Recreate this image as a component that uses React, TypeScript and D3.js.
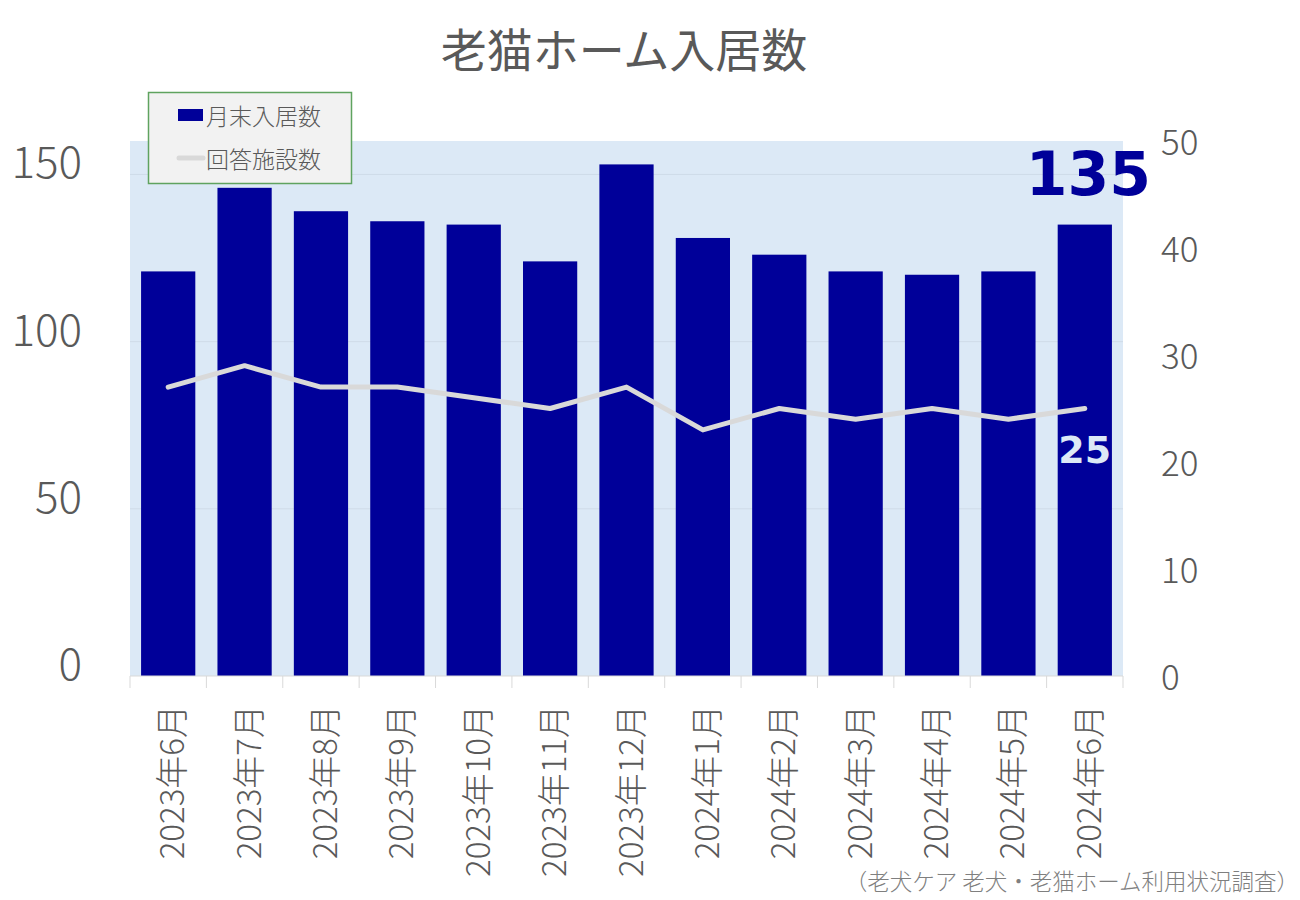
import React from "react";
import * as d3 from "d3";

const categories = [
  "2023年6月", "2023年7月", "2023年8月", "2023年9月", "2023年10月", "2023年11月",
  "2023年12月", "2024年1月", "2024年2月", "2024年3月", "2024年4月", "2024年5月", "2024年6月",
];
const residents = [121, 146, 139, 136, 135, 124, 153, 131, 126, 121, 120, 121, 135];
const facilities = [27, 29, 27, 27, 26, 25, 27, 23, 25, 24, 25, 24, 25];
const leftTicks = [0, 50, 100, 150];
const rightTicks = [0, 10, 20, 30, 40, 50];

const W = 1300, H = 900;
const plot = { left: 130, right: 1123, top: 141, bottom: 676 };
const FONT = "'Noto Sans CJK JP', 'Noto Sans', sans-serif";
const TXT = "#595959";

export default function App() {
  const x = d3.scaleBand<string>().domain(categories).range([plot.left, plot.right]).paddingInner(0.29).paddingOuter(0.145);
  const yL = d3.scaleLinear().domain([0, 160]).range([plot.bottom, plot.top]);
  const yR = d3.scaleLinear().domain([0, 50]).range([plot.bottom, plot.top]);
  const step = x.step();
  const line = d3.line<number>()
    .x((_, i) => (x(categories[i]) as number) + x.bandwidth() / 2)
    .y((d) => yR(d));
  const lastI = categories.length - 1;
  const lastCx = (x(categories[lastI]) as number) + x.bandwidth() / 2;

  return (
    <svg width={W} height={H} style={{ position: "absolute", left: 0, top: 0 }} fontFamily={FONT}>
      <rect x={0} y={0} width={W} height={H} fill="#ffffff" />
      <text x={624} y={67} textAnchor="middle" fontSize={46} fill={TXT}>老猫ホーム入居数</text>
      <rect x={plot.left} y={plot.top} width={plot.right - plot.left} height={plot.bottom - plot.top} fill="#dce9f6" />
      {leftTicks.filter((t) => t > 0).map((t) => (
        <line key={t} x1={plot.left} x2={plot.right} y1={yL(t)} y2={yL(t)} stroke="#cfdbe8" strokeWidth={1} />
      ))}
      {residents.map((v, i) => (
        <rect key={i} x={x(categories[i])} y={yL(v)} width={x.bandwidth()} height={plot.bottom - yL(v)} fill="#000099" />
      ))}
      <path d={line(facilities) || ""} fill="none" stroke="#d9d9d9" strokeWidth={5} strokeLinejoin="round" strokeLinecap="round" />
      <line x1={plot.left} x2={plot.right} y1={plot.bottom} y2={plot.bottom} stroke="#d9d9d9" strokeWidth={1} />
      {d3.range(categories.length + 1).map((i) => {
        const xx = plot.left + i * step;
        return <line key={i} x1={xx} x2={xx} y1={plot.bottom} y2={plot.bottom + 12} stroke="#d9d9d9" strokeWidth={1} />;
      })}
      {categories.map((c) => {
        const cx = (x(c) as number) + x.bandwidth() / 2;
        return (
          <text key={c} transform={`translate(${cx + 2},705) rotate(-90)`} textAnchor="end" dominantBaseline="central" fontSize={33} fontWeight={300} fill={TXT}>{c}</text>
        );
      })}
      {leftTicks.map((t) => (
        <text key={t} x={82} y={yL(t) - 15} textAnchor="end" dominantBaseline="central" fontSize={44} fontWeight={300} fill={TXT}>{t}</text>
      ))}
      {rightTicks.map((t) => (
        <text key={t} x={1161} y={yR(t) - 2} textAnchor="start" dominantBaseline="central" fontSize={35} fontWeight={300} fill={TXT}>{t}</text>
      ))}
      <text x={1151} y={195} textAnchor="end" fontFamily="'DejaVu Sans', sans-serif" fontWeight="bold" fontSize={60} fill="#000099">{residents[lastI]}</text>
      <text x={lastCx} y={463} textAnchor="middle" fontFamily="'DejaVu Sans', sans-serif" fontWeight="bold" fontSize={38} fill="#dce9f6">{facilities[lastI]}</text>
      <g>
        <rect x={148.5} y={92.5} width={203} height={91} fill="#f2f2f2" stroke="#5fa35f" strokeWidth={1.5} />
        <rect x={178} y={109} width={25} height={12} fill="#000099" />
        <text x={206} y={115} dominantBaseline="central" fontSize={23} fontWeight={300} fill={TXT}>月末入居数</text>
        <line x1={179} x2={203} y1={158} y2={158} stroke="#d9d9d9" strokeWidth={5} strokeLinecap="round" />
        <text x={206} y={158} dominantBaseline="central" fontSize={23} fontWeight={300} fill={TXT}>回答施設数</text>
      </g>
      <text x={1299} y={880} textAnchor="end" dominantBaseline="central" fontSize={22.5} fontWeight={300} fill="#7f7f7f">（老犬ケア 老犬・老猫ホーム利用状況調査）</text>
    </svg>
  );
}
